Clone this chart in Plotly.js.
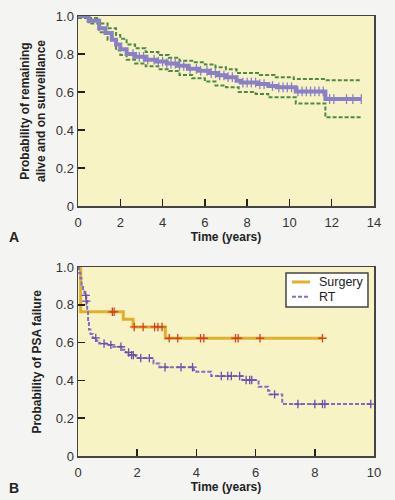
<!DOCTYPE html>
<html>
<head>
<meta charset="utf-8">
<script src="https://cdn.plot.ly/plotly-3.0.1.min.js"></script>
<style>
html,body{margin:0;padding:0;background:#f4f4f2;}
#chart{width:395px;height:500px;}
</style>
</head>
<body>
<div id="chart"></div>
<script>
// ---------- Panel A: survival on surveillance ----------
var aTime  = [0, 0.5, 1.0, 1.3, 1.6, 1.8, 2.0, 2.3, 2.7, 3.2, 3.7, 4.2, 4.7, 5.2, 5.7, 6.2, 6.6, 7.0, 7.5, 7.7, 8.5, 9.0, 9.4, 10.3, 11.7, 13.4];
var aSurv  = [1.0, 0.975, 0.935, 0.91, 0.875, 0.85, 0.825, 0.80, 0.785, 0.77, 0.76, 0.75, 0.738, 0.722, 0.712, 0.70, 0.688, 0.678, 0.66, 0.65, 0.642, 0.632, 0.625, 0.603, 0.563, 0.563];
var aUpTime = [0, 0.5, 1.0, 1.4, 1.8, 2.0, 2.3, 2.7, 3.2, 3.8, 4.3, 4.8, 5.4, 6.0, 6.5, 7.0, 7.5, 8.6, 9.3, 10.2, 11.7, 13.4];
var aUpper  = [1.0, 0.99, 0.96, 0.935, 0.90, 0.88, 0.85, 0.83, 0.81, 0.795, 0.78, 0.765, 0.757, 0.745, 0.73, 0.72, 0.70, 0.69, 0.678, 0.668, 0.662, 0.662];
var aLoTime = [0, 0.5, 1.0, 1.4, 1.8, 2.0, 2.3, 2.7, 3.2, 3.8, 4.3, 4.8, 5.4, 6.0, 6.5, 7.0, 7.6, 8.4, 9.0, 10.3, 11.7, 13.4];
var aLower  = [0.99, 0.96, 0.915, 0.875, 0.82, 0.795, 0.77, 0.75, 0.735, 0.72, 0.71, 0.69, 0.672, 0.655, 0.635, 0.625, 0.60, 0.59, 0.572, 0.54, 0.467, 0.467];
var aCensor = [2.6, 2.9, 3.1, 3.3, 3.6, 3.8, 4.0, 4.2, 4.4, 4.6, 4.8, 5.0, 5.3, 5.6, 5.8, 6.1, 6.3, 6.5, 6.7, 6.9, 7.1, 7.3, 7.8, 8.0, 8.2, 8.4, 8.6, 8.8, 9.2, 9.5, 9.7, 9.9, 10.1, 10.4, 10.6, 10.8, 11.0, 11.2, 11.4, 11.6, 11.9, 12.1, 12.7, 13.0, 13.4];

// ---------- Panel B: PSA failure ----------
var surgTime = [0, 0.09, 1.53, 1.86, 2.95, 8.26];
var surgSurv = [1.0, 0.763, 0.723, 0.683, 0.623, 0.623];
var surgCensor = [1.16, 1.22, 1.9, 2.2, 2.59, 2.7, 2.84, 3.08, 3.37, 4.14, 4.25, 5.32, 5.41, 6.15, 8.26];
var rtTime = [0, 0.03, 0.08, 0.12, 0.17, 0.22, 0.28, 0.31, 0.34, 0.37, 0.42, 0.5, 0.62, 0.72, 1.0, 1.15, 1.5, 1.62, 1.72, 1.95, 2.55, 2.75, 3.9, 4.0, 4.5, 5.55, 6.1, 6.42, 6.47, 6.9, 9.92];
var rtSurv = [1.0, 0.97, 0.94, 0.90, 0.87, 0.85, 0.82, 0.77, 0.71, 0.67, 0.645, 0.625, 0.61, 0.595, 0.588, 0.578, 0.562, 0.548, 0.534, 0.518, 0.49, 0.47, 0.455, 0.446, 0.423, 0.402, 0.367, 0.345, 0.326, 0.275, 0.275];
var rtCensor = [0.26, 0.28, 0.6, 0.88, 1.11, 1.45, 1.71, 1.81, 1.87, 2.12, 2.41, 2.94, 3.48, 3.87, 4.84, 5.06, 5.18, 5.46, 5.68, 5.8, 5.87, 6.64, 7.43, 8.0, 8.26, 8.34, 9.89];

var legendNames = ['Surgery', 'RT'];
var xTicksA = [0, 2, 4, 6, 8, 10, 12, 14];
var xTicksB = [0, 2, 4, 6, 8, 10];
var yTickVals = [0, 0.2, 0.4, 0.6, 0.8, 1.0];
var yTickText = ['0', '0.2', '0.4', '0.6', '0.8', '1.0'];

function stepAt(ts, ss, t) {
  var v = ss[0];
  for (var i = 0; i < ts.length; i++) { if (ts[i] <= t) v = ss[i]; }
  return v;
}

var purple = '#8a80c8', green = '#4d8a44', gold = '#e0b12a', red = '#d8401e', rtPurple = '#7f6fc4';
var FF = 'Liberation Sans, Arial, sans-serif';

var traces = [
  {x: aUpTime, y: aUpper, mode: 'lines', line: {shape: 'hv', color: green, width: 2, dash: '4px,2px'}, showlegend: false, xaxis: 'x', yaxis: 'y'},
  {x: aLoTime, y: aLower, mode: 'lines', line: {shape: 'hv', color: green, width: 2, dash: '4px,2px'}, showlegend: false, xaxis: 'x', yaxis: 'y'},
  {x: aTime, y: aSurv, mode: 'lines', line: {shape: 'hv', color: purple, width: 4}, showlegend: false, xaxis: 'x', yaxis: 'y'},
  {x: aCensor, y: aCensor.map(function(t){return stepAt(aTime, aSurv, t);}), mode: 'markers',
   marker: {symbol: 'line-ns', size: 7, line: {color: purple, width: 1.3}}, showlegend: false, xaxis: 'x', yaxis: 'y'},
  {x: surgTime, y: surgSurv, mode: 'lines', name: legendNames[0], line: {shape: 'hv', color: gold, width: 3}, showlegend: false, xaxis: 'x2', yaxis: 'y2'},
  {x: rtTime, y: rtSurv, mode: 'lines', name: legendNames[1], line: {shape: 'hv', color: rtPurple, width: 2, dash: '4px,2px'}, showlegend: false, xaxis: 'x2', yaxis: 'y2'},
  {x: surgCensor, y: surgCensor.map(function(t){return stepAt(surgTime, surgSurv, t);}), mode: 'markers',
   marker: {symbol: 'cross-thin', size: 6, line: {color: red, width: 1.3}}, showlegend: false, xaxis: 'x2', yaxis: 'y2'},
  {x: rtCensor, y: rtCensor.map(function(t){return stepAt(rtTime, rtSurv, t);}), mode: 'markers',
   marker: {symbol: 'cross-thin', size: 6, line: {color: '#6a4fb0', width: 1.3}}, showlegend: false, xaxis: 'x2', yaxis: 'y2'}
];

var tickFont = {family: FF, size: 13, color: '#333'};
var titleFont = {family: FF, size: 12, color: '#222', weight: 'bold'};

function xax(range, ticks, anchor) {
  return {range: range, tickvals: ticks, ticks: 'inside', ticklen: 7, tickwidth: 1.5, tickcolor: '#222',
    showline: true, linecolor: '#444', linewidth: 1.5, mirror: true, showgrid: false, zeroline: false,
    tickfont: tickFont, ticklabelstandoff: 4, anchor: anchor, fixedrange: true,
    title: {text: 'Time (years)', font: titleFont, standoff: 2}};
}
function yax(domain, anchor) {
  return {range: [0, 1], domain: domain, tickvals: yTickVals, ticktext: yTickText, ticks: 'inside', ticklen: 7,
    tickwidth: 1.5, tickcolor: '#222', showline: true, linecolor: '#444', linewidth: 1.5, mirror: true,
    showgrid: false, zeroline: false, tickfont: tickFont, anchor: anchor, fixedrange: true};
}

// legend drawn by hand (paper coords)
var lgX0 = 0.7027, lgX1 = 0.9797, lgY0 = 0.3386, lgY1 = 0.4159;
var rowY = [0.3955, 0.3620];
var shapes = [
  {type: 'rect', xref: 'paper', yref: 'paper', x0: lgX0, x1: lgX1, y0: lgY0, y1: lgY1, fillcolor: '#ffffff', line: {color: '#444', width: 1.5}},
  {type: 'line', xref: 'paper', yref: 'paper', x0: 0.723, x1: 0.784, y0: rowY[0], y1: rowY[0], line: {color: gold, width: 3}},
  {type: 'line', xref: 'paper', yref: 'paper', x0: 0.723, x1: 0.784, y0: rowY[1], y1: rowY[1], line: {color: rtPurple, width: 2, dash: '4px,2px'}}
];

var layout = {
  width: 395, height: 500,
  margin: {l: 78, r: 21, t: 16, b: 44},
  paper_bgcolor: '#f4f4f2', plot_bgcolor: '#f8f3c4',
  font: {family: FF, color: '#222'},
  xaxis: xax([0, 14], xTicksA, 'y'),
  yaxis: yax([0.568, 1], 'x'),
  xaxis2: xax([0, 10], xTicksB, 'y2'),
  yaxis2: yax([0, 0.4295], 'x2'),
  showlegend: false,
  shapes: shapes,
  annotations: [
    {text: legendNames[0], xref: 'paper', yref: 'paper', x: 0.812, y: rowY[0], xanchor: 'left', yanchor: 'middle', showarrow: false, borderpad: 0, font: {family: FF, size: 12.5, color: '#222'}},
    {text: legendNames[1], xref: 'paper', yref: 'paper', x: 0.812, y: rowY[1], xanchor: 'left', yanchor: 'middle', showarrow: false, borderpad: 0, font: {family: FF, size: 12.5, color: '#222'}},
    {text: 'Probability of remaining<br>alive and on surveillance', textangle: -90, xref: 'paper', yref: 'paper',
     x: -0.152, y: 0.784, xanchor: 'center', yanchor: 'middle', showarrow: false, font: titleFont},
    {text: 'Probability of PSA failure', textangle: -90, xref: 'paper', yref: 'paper',
     x: -0.138, y: 0.215, xanchor: 'center', yanchor: 'middle', showarrow: false, font: titleFont},
    {text: 'A', xref: 'paper', yref: 'paper', x: -0.217, y: 0.498, xanchor: 'center', yanchor: 'middle', showarrow: false,
     font: {family: FF, size: 14, color: '#222', weight: 'bold'}},
    {text: 'B', xref: 'paper', yref: 'paper', x: -0.217, y: -0.0727, xanchor: 'center', yanchor: 'middle', showarrow: false,
     font: {family: FF, size: 14, color: '#222', weight: 'bold'}}
  ]
};

Plotly.newPlot('chart', traces, layout, {displayModeBar: false, staticPlot: true});
</script>
</body>
</html>
